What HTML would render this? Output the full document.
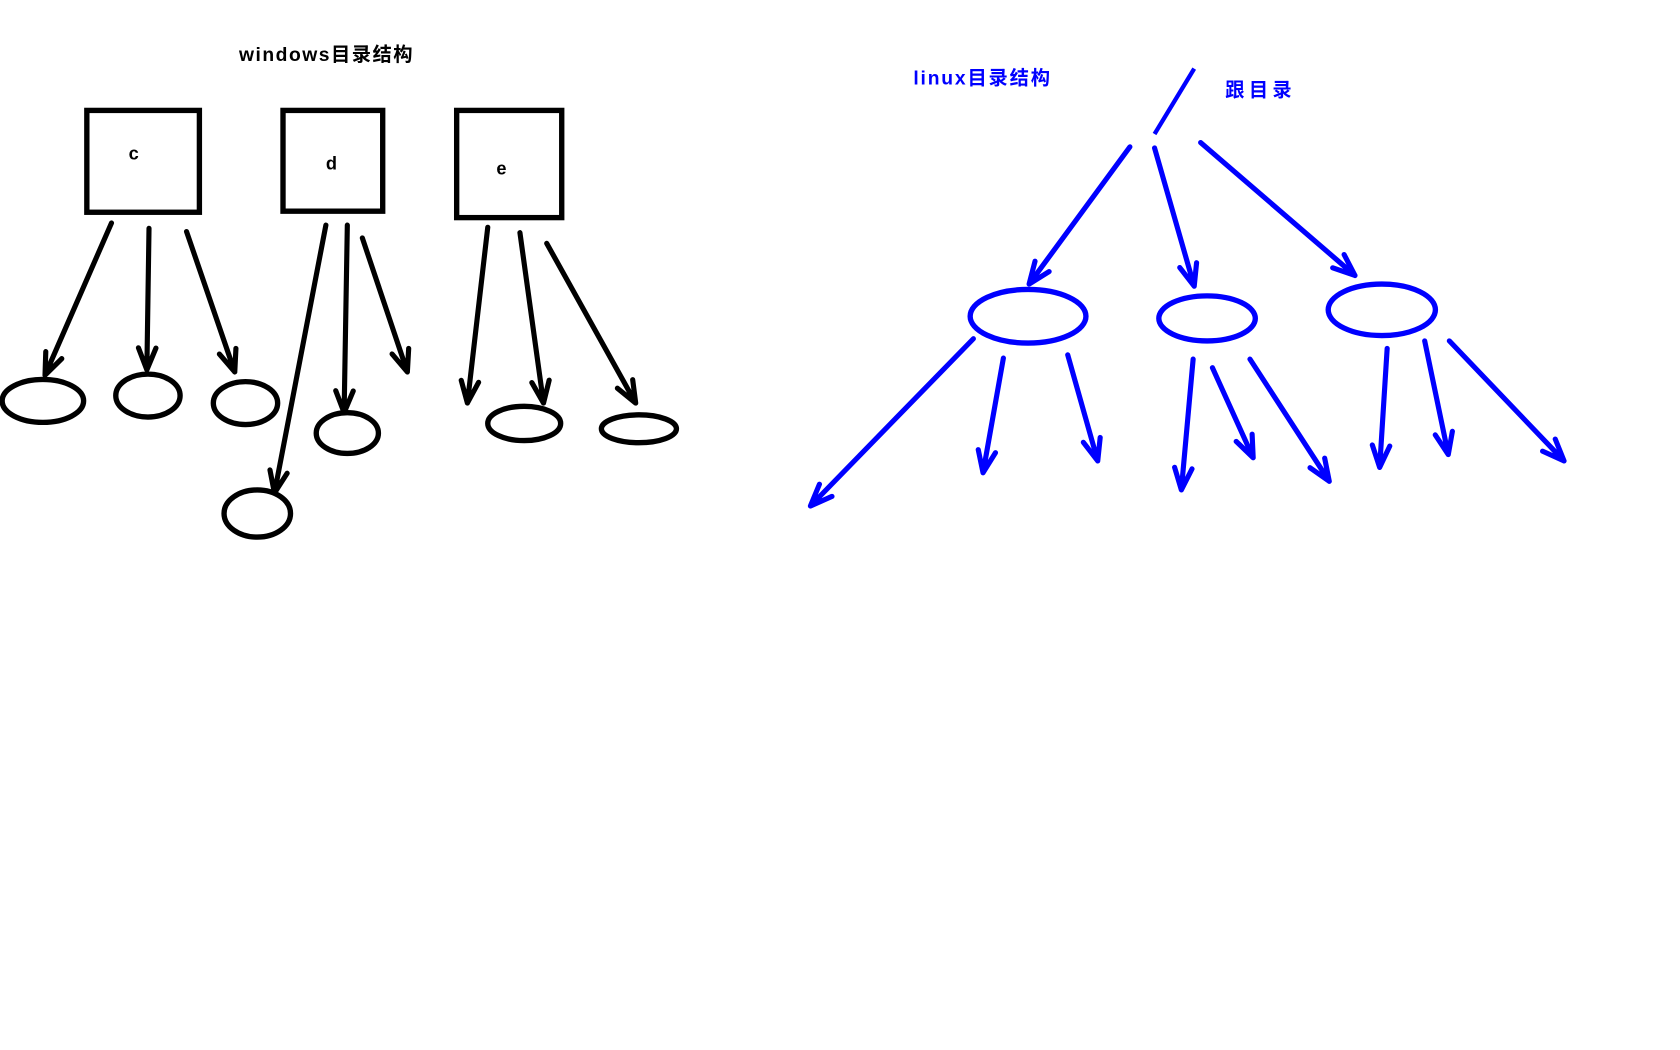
<!DOCTYPE html>
<html><head><meta charset="utf-8"><style>
html,body{margin:0;padding:0;background:#fff;width:1680px;height:1050px;overflow:hidden}
svg{display:block}
text{font-family:"Liberation Sans","Noto Sans CJK SC",sans-serif;font-weight:bold}
</style></head><body>
<svg width="1680" height="1050" viewBox="0 0 1680 1050" xmlns="http://www.w3.org/2000/svg">
<g id="s" transform="scale(1.072)">
<text x="223" y="57" font-size="18" fill="#000" letter-spacing="1.4">windows目录结构</text>
<text x="852" y="79" font-size="18" fill="#0000ff" letter-spacing="1.7">linux目录结构</text>
<text x="1143" y="90" font-size="18" fill="#0000ff" letter-spacing="4">跟目录</text>
<rect x="81" y="103" width="105" height="95" fill="none" stroke="#000" stroke-width="5"/>
<rect x="264" y="103" width="93" height="94" fill="none" stroke="#000" stroke-width="5"/>
<rect x="426" y="103" width="98" height="100" fill="none" stroke="#000" stroke-width="5"/>
<text x="120" y="149" font-size="17">c</text>
<text x="304" y="158" font-size="17">d</text>
<text x="463" y="163" font-size="17">e</text>
<line x1="1114" y1="64" x2="1077" y2="125" stroke="#0000ff" stroke-width="4"/>
</g>
</svg>
<script>
const blackArrows=[[104,208,42,350],[139,213,137,345],[174,216,219,347],[304,210,256,460],[324,210,321,385],[338,222,380,347],[455,212,436,376],[485,217,507,376],[510,227,593,376]];
const blackEllipses=[[40,374,38,20],[138,369,30,20],[229,376,30,20],[324,404,29,19],[240,479,31,22],[489,395,34,16],[596,400,35,13]];
const blueArrows=[[1054,137,960,265],[1077,138,1114,267],[1120,133,1264,257],[908,316,756,472],[936,334,917,441],[996,331,1024,430],[1113,335,1102,457],[1131,343,1169,427],[1166,335,1240,449],[1294,325,1287,436],[1329,318,1351,424],[1352,318,1459,430]];
const blueEllipses=[[959,295,54,25],[1126,297,45,21],[1289,289,50,24]];
const svg=document.getElementById('s');
const NS='http://www.w3.org/2000/svg';
function arrow(a,color){
  const [x1,y1,x2,y2]=a;
  const ang=Math.atan2(y2-y1,x2-x1), L=22, sp=0.38;
  const p=document.createElementNS(NS,'path');
  const hx1=x2-L*Math.cos(ang-sp), hy1=y2-L*Math.sin(ang-sp);
  const hx2=x2-L*Math.cos(ang+sp), hy2=y2-L*Math.sin(ang+sp);
  p.setAttribute('d',`M${x1},${y1}L${x2},${y2}M${hx1},${hy1}L${x2},${y2}L${hx2},${hy2}`);
  p.setAttribute('stroke',color);p.setAttribute('stroke-width','4.8');p.setAttribute('fill','none');
  p.setAttribute('stroke-linecap','round');p.setAttribute('stroke-linejoin','round');
  
  
  svg.appendChild(p);
}
function ell(e,color){
  const el=document.createElementNS(NS,'ellipse');
  el.setAttribute('cx',e[0]);el.setAttribute('cy',e[1]);el.setAttribute('rx',e[2]);el.setAttribute('ry',e[3]);
  el.setAttribute('fill','none');el.setAttribute('stroke',color);el.setAttribute('stroke-width','5');
  
  
  svg.appendChild(el);
}
blackArrows.forEach(a=>arrow(a,'#000'));
blackEllipses.forEach(e=>ell(e,'#000'));
blueArrows.forEach(a=>arrow(a,'#0000ff'));
blueEllipses.forEach(e=>ell(e,'#0000ff'));
</script>
</body></html>
